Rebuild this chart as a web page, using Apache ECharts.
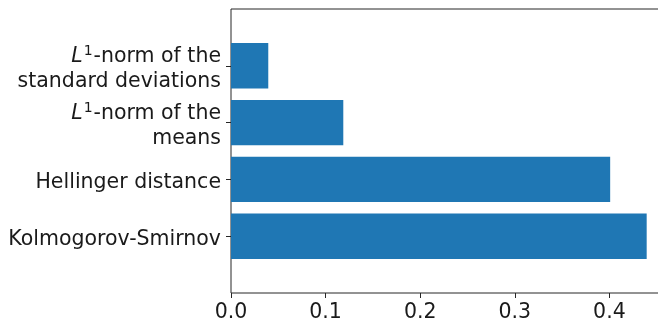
<!DOCTYPE html>
<html><head><meta charset="utf-8">
<script src="https://cdn.jsdelivr.net/npm/echarts@6/dist/echarts.min.js"></script>
<style>html,body{margin:0;padding:0;background:#fff}#c{width:658px;height:322px}</style>
</head><body><div id="c"></div>
<script>
// Distance measures, listed from the bottom bar to the top bar
const categories = ['Kolmogorov-Smirnov', 'Hellinger distance', 'L1-norm of the means', 'L1-norm of the standard deviations'];
const values = [0.4394, 0.4008, 0.1187, 0.0394];
const xTicks = [0, 0.1, 0.2, 0.3, 0.4];

// Axis label text; the L1 norms get an italic L with a superscript 1
const labelText = {
  'Kolmogorov-Smirnov': 'Kolmogorov-Smirnov',
  'Hellinger distance': 'Hellinger distance',
  'L1-norm of the means': '{it|L}{sup|1}{n|-norm of the}\n{n|means}',
  'L1-norm of the standard deviations': '{it|L}{sup|1}{n|-norm of the}\n{n|standard deviations}'
};

// One empty slot below and above so the value range runs from -1 to 4
const yCats = [' ', ...categories, '  '];
const yVals = [null, ...values, null];

const font = 'DejaVu Sans';
const ink = '#1a1a1a';
const fs = 20.5;
const chart = echarts.init(document.getElementById('c'), null, {renderer: 'canvas'});
chart.setOption({
  animation: false,
  grid: {
    left: 231, top: 9, width: 436.5, height: 284,
    outerBoundsMode: 'none', containLabel: false,
    show: true, borderColor: '#262626', borderWidth: 1, backgroundColor: 'transparent'
  },
  xAxis: {
    type: 'value', min: 0, max: 0.4614,
    axisLine: {show: false},
    splitLine: {show: false},
    axisTick: {show: true, length: 5, customValues: xTicks, lineStyle: {color: '#262626'}},
    axisLabel: {
      customValues: xTicks, margin: 9,
      formatter: v => v.toFixed(1),
      fontFamily: font, fontSize: fs, color: ink
    }
  },
  yAxis: {
    type: 'category', data: yCats, boundaryGap: false,
    axisLine: {show: false},
    splitLine: {show: false},
    axisTick: {show: true, length: 5, interval: (i) => i > 0 && i < yCats.length - 1, lineStyle: {color: '#262626'}},
    axisLabel: {
      interval: 0, margin: 10, align: 'right', padding: [7, 0, 0, 0],
      fontFamily: font, fontSize: fs, color: ink, lineHeight: 25,
      formatter: (name) => labelText[name] || '',
      rich: {
        n: {fontFamily: font, fontSize: fs, color: ink, lineHeight: 25},
        it: {fontFamily: font, fontSize: fs, fontStyle: 'italic', color: ink, lineHeight: 25},
        sup: {fontFamily: font, fontSize: 14, color: ink, verticalAlign: 'top', lineHeight: 25, padding: [0, 1, 6, 1]}
      }
    }
  },
  series: [{
    type: 'bar', data: yVals, barWidth: '80%',
    itemStyle: {color: '#1f77b4'}
  }]
});
</script></body></html>
